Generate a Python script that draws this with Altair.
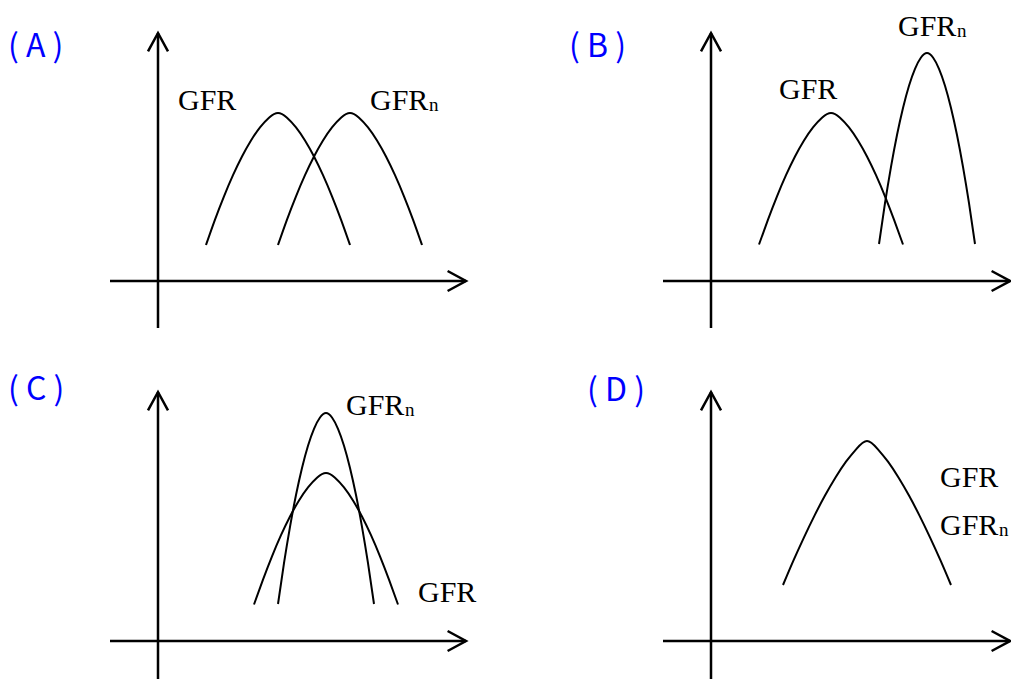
import altair as alt
import pandas as pd

# Local units for every panel: origin where the two axes cross, 1 unit = 10 px, y upward.
# ---------------- curves ----------------
a_gfr_x = [4.8, 5.7, 6.6, 7.5, 8.4, 9.3, 10.2, 11.1, 12.0, 12.9, 13.8, 14.7, 15.6, 16.5, 17.4, 18.3, 19.2]
a_gfr_y = [3.60, 6.14, 8.47, 10.58, 12.45, 14.05, 15.36, 16.33, 16.80,
           16.33, 15.36, 14.05, 12.45, 10.58, 8.47, 6.14, 3.60]
a_gfrn_x = [12.0, 12.9, 13.8, 14.7, 15.6, 16.5, 17.4, 18.3, 19.2, 20.1, 21.0, 21.9, 22.8, 23.7, 24.6, 25.5, 26.4]
a_gfrn_y = [3.60, 6.14, 8.47, 10.58, 12.45, 14.05, 15.36, 16.33, 16.80,
            16.33, 15.36, 14.05, 12.45, 10.58, 8.47, 6.14, 3.60]

b_gfr_x = [4.8, 5.7, 6.6, 7.5, 8.4, 9.3, 10.2, 11.1, 12.0, 12.9, 13.8, 14.7, 15.6, 16.5, 17.4, 18.3, 19.2]
b_gfr_y = [3.65, 6.14, 8.47, 10.58, 12.45, 14.05, 15.36, 16.33, 16.80,
           16.33, 15.36, 14.05, 12.45, 10.58, 8.47, 6.14, 3.65]
b_gfrn_x = [16.8, 17.4, 18.0, 18.6, 19.2, 19.8, 20.4, 21.0, 21.6, 22.2, 22.8, 23.4, 24.0, 24.6, 25.2, 25.8, 26.4]
b_gfrn_y = [3.70, 7.78, 11.42, 14.60, 17.31, 19.53, 21.22, 22.35, 22.80,
            22.35, 21.22, 19.53, 17.31, 14.60, 11.42, 7.78, 3.70]

c_gfr_x = [9.6, 10.5, 11.4, 12.3, 13.2, 14.1, 15.0, 15.9, 16.8, 17.7, 18.6, 19.5, 20.4, 21.3, 22.2, 23.1, 24.0]
c_gfr_y = [3.65, 6.14, 8.47, 10.58, 12.45, 14.05, 15.36, 16.33, 16.80,
           16.33, 15.36, 14.05, 12.45, 10.58, 8.47, 6.14, 3.65]
c_gfrn_x = [12.0, 12.6, 13.2, 13.8, 14.4, 15.0, 15.6, 16.2, 16.8, 17.4, 18.0, 18.6, 19.2, 19.8, 20.4, 21.0, 21.6]
c_gfrn_y = [3.70, 7.78, 11.42, 14.60, 17.31, 19.53, 21.22, 22.35, 22.80,
            22.35, 21.22, 19.53, 17.31, 14.60, 11.42, 7.78, 3.70]

d_gfr_x = [7.2, 8.25, 9.3, 10.35, 11.4, 12.45, 13.5, 14.55, 15.6,
           16.65, 17.7, 18.75, 19.8, 20.85, 21.9, 22.95, 24.0]
d_gfr_y = [5.60, 8.06, 10.37, 12.54, 14.54, 16.35, 17.93, 19.22, 20.00,
           19.22, 17.93, 16.35, 14.54, 12.54, 10.37, 8.06, 5.60]

# ---------------- labels ----------------
label_panel = ["A", "A", "B", "B", "C", "C", "D", "D"]
label_x = [2.0, 21.2, 6.8, 18.7, 18.8, 26.0, 22.9, 22.9]
label_y = [17.1, 17.1, 18.2, 24.5, 22.6, 3.9, 15.4, 10.6]
label_text = ["GFR", "GFR", "GFR", "GFR", "GFR", "GFR", "GFR", "GFR"]
label_sub = ["", "n", "", "n", "n", "", "", "n"]

tag_panel = ["A", "B", "C", "D"]
tag_text = ["(  A  )", "(  B  )", "(  C  )", "(  D  )"]
tag_x = [-15.0, -14.2, -15.0, -12.4]
tag_y = [22.4, 22.4, 24.1, 24.0]

# ---------------- axes (start / end of each arrow, local units) ----------------
axis_panel = ["A", "B", "C", "D"]
x_axis_start = [-4.8, -4.8, -4.8, -4.8]
x_axis_end = [30.8, 29.9, 30.8, 29.9]
y_axis_start = [-4.7, -4.7, -5.0, -5.0]
y_axis_end = [24.8, 24.8, 24.9, 24.9]
ARROW_LEN, ARROW_HALF = 1.84, 1.0

# ---------------- tables ----------------
curve_rows = []
for p, name, xs, ys in [
    ("A", "GFR", a_gfr_x, a_gfr_y), ("A", "GFRn", a_gfrn_x, a_gfrn_y),
    ("B", "GFR", b_gfr_x, b_gfr_y), ("B", "GFRn", b_gfrn_x, b_gfrn_y),
    ("C", "GFR", c_gfr_x, c_gfr_y), ("C", "GFRn", c_gfrn_x, c_gfrn_y),
    ("D", "GFR", d_gfr_x, d_gfr_y),
]:
    for i, (xv, yv) in enumerate(zip(xs, ys)):
        curve_rows.append({"panel": p, "curve": name, "i": i, "x": xv, "y": yv})
curves = pd.DataFrame(curve_rows)

axis_rows = []
for p, x0, x1, y0, y1 in zip(axis_panel, x_axis_start, x_axis_end, y_axis_start, y_axis_end):
    paths = {
        "xaxis": [(x0, 0.0), (x1, 0.0)],
        "yaxis": [(0.0, y0), (0.0, y1)],
        "xhead": [(x1 - ARROW_LEN, ARROW_HALF), (x1, 0.0), (x1 - ARROW_LEN, -ARROW_HALF)],
        "yhead": [(-ARROW_HALF, y1 - ARROW_LEN), (0.0, y1), (ARROW_HALF, y1 - ARROW_LEN)],
    }
    for seg, pts in paths.items():
        for i, (xv, yv) in enumerate(pts):
            axis_rows.append({"panel": p, "seg": seg, "i": i, "x": xv, "y": yv})
axes = pd.DataFrame(axis_rows)

labels = pd.DataFrame({"panel": label_panel, "x": label_x, "y": label_y,
                       "text": label_text, "sub": label_sub})
tags = pd.DataFrame({"panel": tag_panel, "x": tag_x, "y": tag_y, "text": tag_text})

PX = 10.0  # pixels per unit
ORIGIN_LEFT = 15.0  # units from panel left edge to the y axis
ORIGIN_TOP = 27.3   # units from panel top edge to the x axis


def panel(p, width, height):
    xs = alt.Scale(domain=[-ORIGIN_LEFT, -ORIGIN_LEFT + width / PX], nice=False, zero=False)
    ys = alt.Scale(domain=[ORIGIN_TOP - height / PX, ORIGIN_TOP], nice=False, zero=False)
    X = alt.X("x:Q", scale=xs, axis=None)
    Y = alt.Y("y:Q", scale=ys, axis=None)

    ax = alt.Chart(axes[axes.panel == p]).mark_line(
        color="black", strokeWidth=2.5, strokeJoin="miter", strokeCap="butt", clip=True
    ).encode(x=X, y=Y, detail="seg:N", order="i:Q")

    cv = alt.Chart(curves[curves.panel == p]).mark_line(
        color="black", strokeWidth=2, interpolate="natural", clip=True
    ).encode(x=X, y=Y, detail="curve:N", order="i:Q")

    lab = labels[labels.panel == p]
    tx = alt.Chart(lab).mark_text(
        font="Liberation Serif", fontSize=30, color="black",
        align="left", baseline="alphabetic", clip=True
    ).encode(x=X, y=Y, text="text:N")

    sub = alt.Chart(lab[lab["sub"] != ""]).mark_text(
        font="Liberation Serif", fontSize=19, color="black",
        align="left", baseline="alphabetic", dx=59, dy=1, clip=True
    ).encode(x=X, y=Y, text="sub:N")

    tg = alt.Chart(tags[tags.panel == p]).mark_text(
        font="Noto Sans CJK SC", fontSize=32, color="#0000ff",
        align="left", baseline="alphabetic", clip=True
    ).encode(x=X, y=Y, text="text:N")

    return alt.layer(ax, cv, tx, sub, tg).properties(width=width, height=height)


chart = alt.concat(
    panel("A", 553, 360), panel("B", 450, 360),
    panel("C", 553, 311), panel("D", 450, 311),
    columns=2, spacing=0, bounds="flush",
).properties(padding=0).configure_view(stroke=None)

chart.save("out.html", embed_options={"renderer": "svg", "actions": False})
